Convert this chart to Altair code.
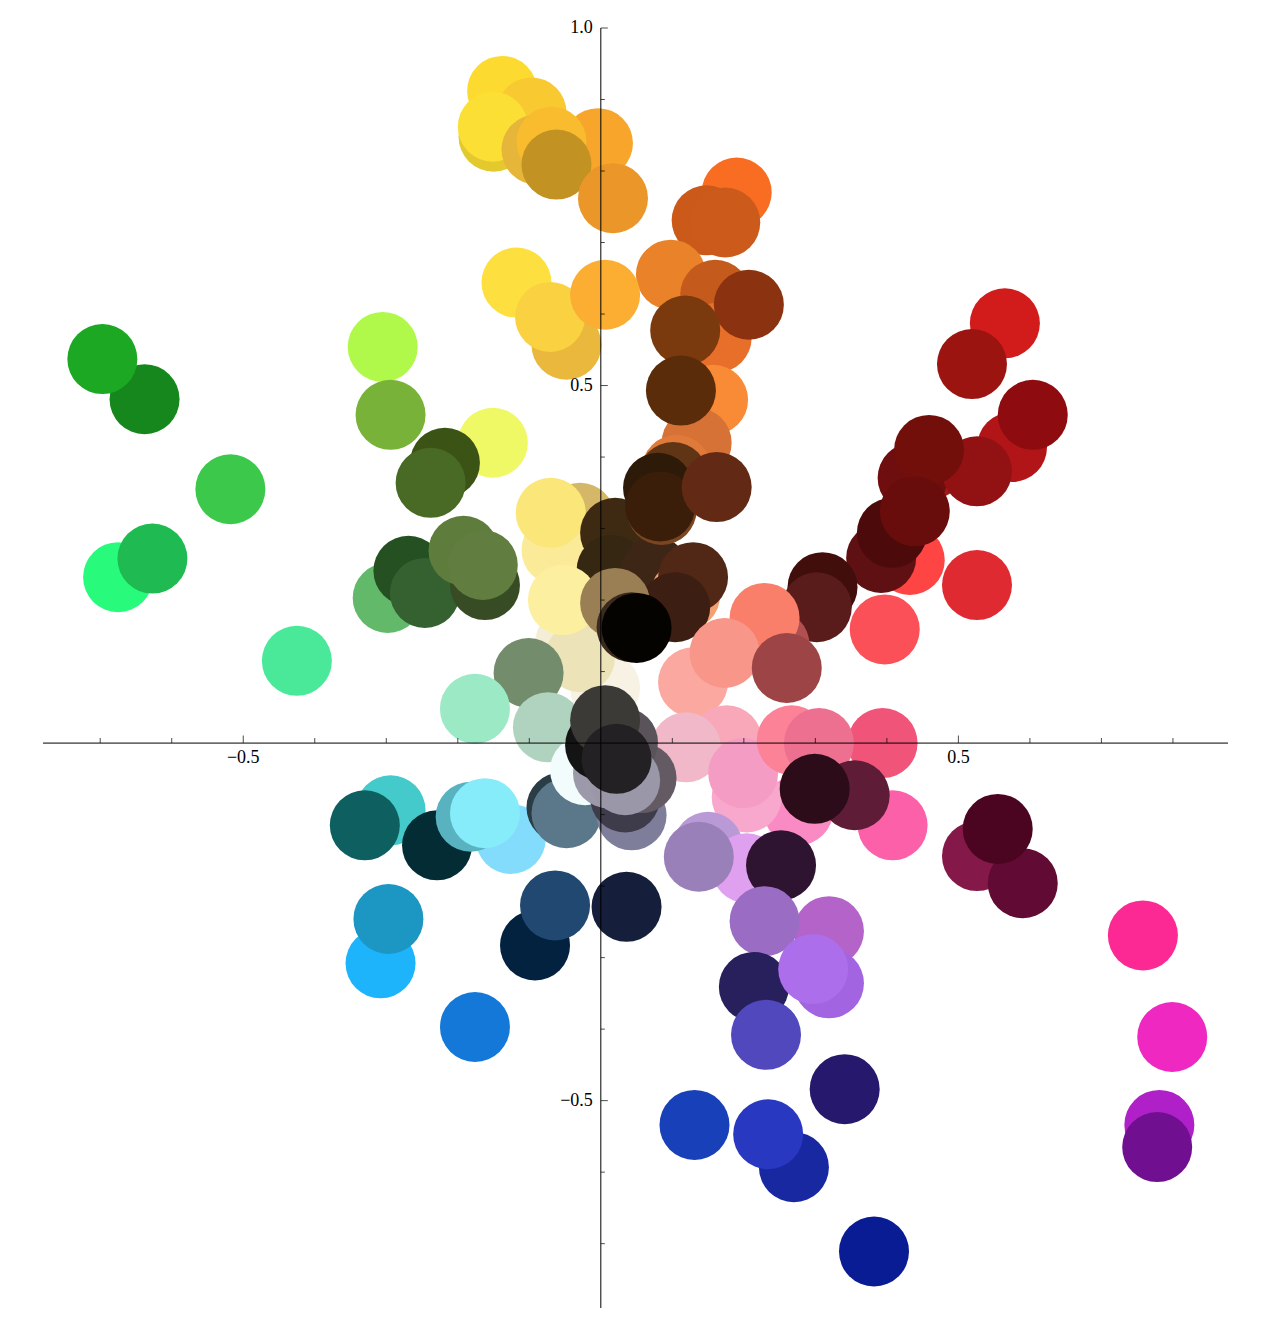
import altair as alt
import pandas as pd

# circle centres (data units) and fill colours, listed in drawing order
x_vals = [
    # yellow / gold top
    -0.138, -0.150, -0.097, -0.151, -0.090, -0.004, -0.069, -0.062, 0.017,
    # orange arm
    0.190, 0.148, 0.174, 0.098, 0.160, 0.162, 0.207, 0.118, 0.157, 0.134, 0.112,
    # yellow lower
    -0.048, -0.118, -0.071, 0.006,
    # greens
    -0.638, -0.697, -0.305, -0.294, -0.151, -0.218, -0.238, -0.518, -0.675,
    -0.627, -0.425, -0.298, -0.269, -0.246, -0.162, -0.192, -0.165,
    # browns / creams centre
    -0.029, -0.062, -0.070, 0.020, 0.015, 0.076, 0.106, 0.101, 0.085, 0.080,
    0.083, 0.162, 0.118, 0.129, 0.104, 0.006, -0.043, -0.029, -0.053, 0.020,
    0.043, 0.050,
    # reds and salmons
    0.565, 0.519, 0.575, 0.604, 0.460, 0.436, 0.526, 0.459, 0.432, 0.392,
    0.407, 0.439, 0.526, 0.397, 0.310, 0.302, 0.243, 0.229, 0.129, 0.173, 0.260,
    # pinks
    0.176, 0.119, 0.276, 0.204, 0.199, 0.267, 0.394, 0.305, 0.408, 0.355,
    0.299, 0.526, 0.590, 0.555,
    # purples, blues, magentas
    0.150, 0.204, 0.137, 0.252, 0.319, 0.229, 0.319, 0.214, 0.297, 0.231,
    0.341, 0.131, 0.270, 0.234, 0.382, 0.758, 0.799, 0.781, 0.778,
    # teals, cyans, sage
    -0.101, -0.176, -0.074, -0.294, -0.330, -0.229, -0.126, -0.182, -0.162,
    -0.055, -0.048, -0.308, -0.297, -0.176, -0.092, -0.064, 0.036,
    # greys centre
    -0.022, 0.043, 0.034, 0.057, 0.031, 0.010, 0.034, -0.001, 0.006, 0.022,
]
y_vals = [
    0.912, 0.848, 0.882, 0.862, 0.830, 0.839, 0.841, 0.809, 0.762,
    0.770, 0.731, 0.728, 0.655, 0.627, 0.567, 0.613, 0.577, 0.480, 0.420, 0.493,
    0.557, 0.644, 0.596, 0.627,
    0.481, 0.537, 0.554, 0.459, 0.420, 0.392, 0.364, 0.355, 0.232,
    0.258, 0.115, 0.203, 0.241, 0.210, 0.221, 0.269, 0.249,
    0.315, 0.270, 0.322, 0.294, 0.242, 0.239, 0.382, 0.372, 0.326, 0.357,
    0.331, 0.358, 0.207, 0.232, 0.190, 0.077, 0.140, 0.120, 0.200, 0.196,
    0.162, 0.161,
    0.587, 0.530, 0.414, 0.459, 0.389, 0.371, 0.380, 0.410, 0.256, 0.259,
    0.294, 0.324, 0.221, 0.159, 0.218, 0.190, 0.137, 0.175, 0.085, 0.126, 0.105,
    0.004, -0.006, -0.094, -0.076, -0.042, 0.004, 0.000, 0.000, -0.115, -0.073,
    -0.064, -0.158, -0.196, -0.120,
    -0.145, -0.175, -0.159, -0.171, -0.263, -0.249, -0.336, -0.341, -0.316, -0.408,
    -0.484, -0.534, -0.593, -0.547, -0.711, -0.269, -0.411, -0.534, -0.565,
    0.098, 0.048, 0.022, -0.094, -0.115, -0.143, -0.134, -0.103, -0.098,
    -0.090, -0.098, -0.308, -0.246, -0.397, -0.283, -0.227, -0.229,
    -0.038, -0.101, -0.076, -0.049, 0.001, -0.042, -0.052, -0.003, 0.032, -0.022,
]
colors = [
    "#FDDA30", "#E3C92E", "#F9C932", "#FBDF35", "#E6B63A", "#F8A52B", "#F9BC2F", "#C29222", "#EA9628",
    "#F96D22", "#CB5A1A", "#CC5B1B", "#E98228", "#C55A1D", "#E86F2A", "#8B3210", "#7B3A0E", "#F98A36", "#D67235", "#5A2C0A",
    "#E9B83C", "#FDE040", "#FAD241", "#FBAE32",
    "#15871D", "#1CA823", "#B0F94A", "#78B238", "#EFF865", "#3B5416", "#496A24", "#3CC94B", "#28FB7C",
    "#1FBB52", "#4AE99A", "#62B96A", "#245022", "#356130", "#374B24", "#5E7C3C", "#617E40",
    "#D4B868", "#FBEB99", "#FBE67A", "#3E2A12", "#352712", "#3E2616", "#E07A3A", "#603515", "#7B4520", "#2E1A08",
    "#3A1E0A", "#622A14", "#F5A070", "#512816", "#3C1E12", "#F7F2E4", "#F4EED8", "#ECE3B8", "#FCF0A0", "#9A7F55",
    "#3A2A20", "#050300",
    "#D21B1B", "#9B1410", "#B21518", "#8E0B10", "#A01C18", "#6E0E0E", "#921214", "#730F0B", "#FF4444", "#5E1012",
    "#4C0A0A", "#680C0C", "#E02A32", "#FC5058", "#420E0C", "#5A1C1A", "#B05050", "#FA7F6A", "#FBA9A0", "#F9968A", "#9C4446",
    "#F8A8B8", "#F0B8C8", "#FA8AC4", "#F8A8CC", "#F59CC4", "#FC8298", "#F05478", "#EE7090", "#FC60A8", "#5E1C36",
    "#2C0C18", "#841848", "#600A34", "#4C0520",
    "#BA9AD6", "#E0A0F0", "#9A80B8", "#2E1430", "#B464C8", "#9A6CC4", "#A264E0", "#28205C", "#AC6EEA", "#5048BC",
    "#26186C", "#1840B8", "#1828A0", "#2838C0", "#0A1C94", "#FC2894", "#EE28C0", "#B020C8", "#701090",
    "#738C6C", "#9BE9C5", "#B0D3C0", "#44CACA", "#0E6060", "#032C34", "#84DCFC", "#58B2C0", "#86ECFA",
    "#2A3C44", "#5A788A", "#1EB4FC", "#1C96C2", "#1478D8", "#03223F", "#204870", "#151E3A",
    "#F2FCFC", "#7E7E9A", "#3E3C4A", "#645A64", "#5A545A", "#9C9AAA", "#9A98A8", "#141414", "#3C3A36", "#232124",
]

x_range = [-0.78, 0.877]
y_range = [-0.79, 1.0]
x_minor = [-0.7, -0.6, -0.4, -0.3, -0.2, -0.1, 0.1, 0.2, 0.3, 0.4, 0.6, 0.7, 0.8]
x_major = [-0.5, 0.5]
y_minor = [-0.7, -0.6, -0.4, -0.3, -0.2, -0.1, 0.1, 0.2, 0.3, 0.4, 0.6, 0.7, 0.8, 0.9]
y_major = [-0.5, 0.5, 1.0]
x_labels = ["\u22120.5", "0.5"]
y_labels = ["\u22120.5", "0.5", "1.0"]

points = pd.DataFrame({"x": x_vals, "y": y_vals, "color": colors})
points["idx"] = range(len(points))

xs = alt.Scale(domain=x_range, nice=False, zero=False)
ys = alt.Scale(domain=y_range, nice=False, zero=False)

# symbol size is the bounding square's area: 70 px discs
dots = alt.Chart(points).mark_circle(size=4900, opacity=1, strokeWidth=0).encode(
    x=alt.X("x:Q", scale=xs, axis=None),
    y=alt.Y("y:Q", scale=ys, axis=None),
    color=alt.Color("color:N", scale=None),
    order=alt.Order("idx:Q"),
)

xline = alt.Chart(pd.DataFrame({"x": [x_range[0]], "x2": [x_range[1]], "y": [0]})).mark_rule(
    color="black", strokeWidth=1).encode(x="x:Q", x2="x2:Q", y="y:Q")
yline = alt.Chart(pd.DataFrame({"y": [y_range[0]], "y2": [y_range[1]], "x": [0]})).mark_rule(
    color="black", strokeWidth=1).encode(y="y:Q", y2="y2:Q", x="x:Q")

xt_minor = alt.Chart(pd.DataFrame({"v": x_minor})).mark_tick(
    orient="vertical", size=5, thickness=1, yOffset=-2.5, color="black").encode(x="v:Q", y=alt.datum(0))
xt_major = alt.Chart(pd.DataFrame({"v": x_major})).mark_tick(
    orient="vertical", size=7.5, thickness=1, yOffset=-3.75, color="black").encode(x="v:Q", y=alt.datum(0))
yt_minor = alt.Chart(pd.DataFrame({"v": y_minor})).mark_tick(
    orient="horizontal", size=4, thickness=1, xOffset=2, color="black").encode(y="v:Q", x=alt.datum(0))
yt_major = alt.Chart(pd.DataFrame({"v": y_major})).mark_tick(
    orient="horizontal", size=7, thickness=1, xOffset=3.5, color="black").encode(y="v:Q", x=alt.datum(0))

xlab = alt.Chart(pd.DataFrame({"v": x_major, "t": x_labels})).mark_text(
    font="Liberation Serif", fontSize=18, baseline="top", dy=6, color="black").encode(
    x="v:Q", y=alt.datum(0), text="t:N")
ylab = alt.Chart(pd.DataFrame({"v": y_major, "t": y_labels})).mark_text(
    font="Liberation Serif", fontSize=18, align="right", baseline="middle", dx=-8, color="black").encode(
    y="v:Q", x=alt.datum(0), text="t:N")

chart = alt.layer(dots, xline, yline, xt_minor, xt_major, yt_minor, yt_major, xlab, ylab).properties(
    width=1185, height=1280,
    autosize=alt.AutoSizeParams(type="none"),
    padding={"left": 35, "top": 20, "right": 30, "bottom": 20},
).configure_view(strokeWidth=0)

chart.save("out.html", embed_options={"renderer": "svg", "actions": False})
